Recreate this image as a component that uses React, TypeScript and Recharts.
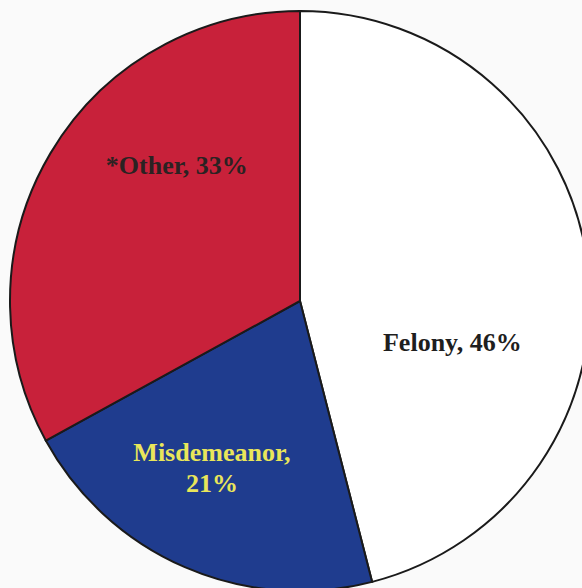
import { PieChart, Pie, Cell } from "recharts";

const categories = ["Felony", "Misdemeanor", "*Other"];
const shares = [46, 21, 33];
const sliceColors = ["#ffffff", "#1f3c8e", "#c8213a"];
const textColors = ["#1e1e1e", "#e9e65a", "#2b2222"];

// where each label sits: angle (deg, recharts convention) and distance from centre
const labelAngles = [-15.4, -117.6, 132.3];
const labelRadii = [158, 190, 183];

const data = categories.map((name, i) => ({ name, value: shares[i] }));

const RADIAN = Math.PI / 180;

function renderLabel(props: any) {
  const { cx, cy, index } = props;
  const a = labelAngles[index] * RADIAN;
  const x = cx + labelRadii[index] * Math.cos(a);
  const y = cy - labelRadii[index] * Math.sin(a);
  const name = categories[index];
  const pct = `${shares[index]}%`;
  const common = {
    fill: textColors[index],
    style: {
      fontFamily: '"Liberation Serif", "Times New Roman", serif',
      fontWeight: 700,
      fontSize: 26,
    },
    textAnchor: "middle" as const,
  };
  if (name === "Misdemeanor") {
    return (
      <text x={x} y={y} {...common}>
        <tspan x={x} dy={-8}>{`${name},`}</tspan>
        <tspan x={x} dy={31}>{pct}</tspan>
      </text>
    );
  }
  return (
    <text x={x} y={y} dy={8} {...common}>
      {`${name}, ${pct}`}
    </text>
  );
}

export default function App() {
  return (
    <div
      style={{
        position: "absolute",
        left: 0,
        top: 0,
        width: 582,
        height: 588,
        background: "#fafafa",
        overflow: "hidden",
      }}
    >
      <PieChart width={582} height={588} margin={{ top: 0, right: 0, bottom: 0, left: 0 }}>
        <Pie
          data={data}
          dataKey="value"
          nameKey="name"
          cx={300}
          cy={301}
          outerRadius={290}
          startAngle={90}
          endAngle={-270}
          stroke="#1a1a1a"
          strokeWidth={2}
          label={renderLabel}
          labelLine={false}
          isAnimationActive={false}
        >
          {data.map((d, i) => (
            <Cell key={d.name} fill={sliceColors[i]} />
          ))}
        </Pie>
      </PieChart>
    </div>
  );
}
